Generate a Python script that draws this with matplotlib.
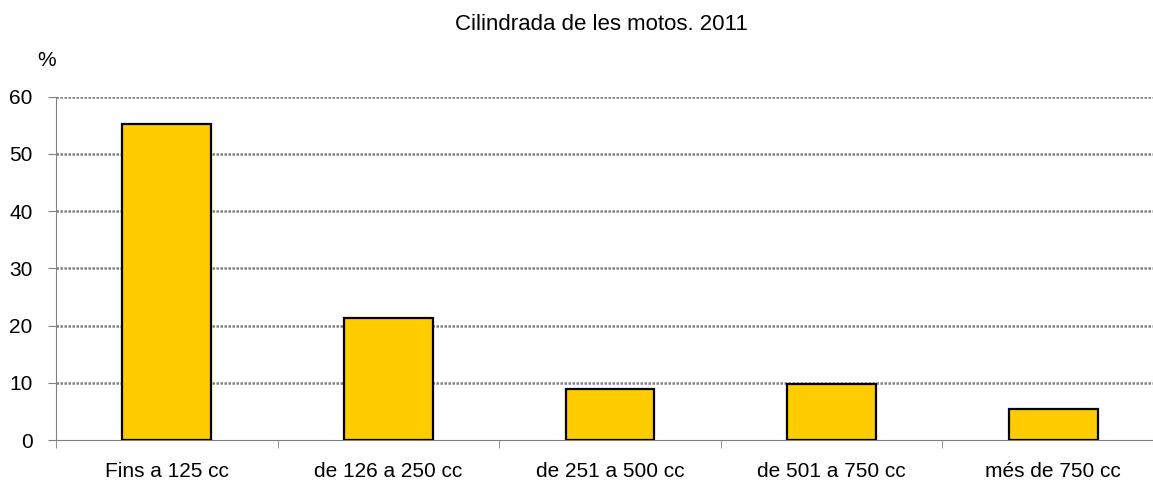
import numpy as np
import matplotlib
matplotlib.use('Agg')
import matplotlib.pyplot as plt

plt.rcParams['font.family'] = ['Liberation Sans', 'DejaVu Sans']

categories = ['Fins a 125 cc', 'de 126 a 250 cc', 'de 251 a 500 cc',
              'de 501 a 750 cc', 'més de 750 cc']
values = [55.2, 21.3, 8.9, 9.8, 5.4]

fig = plt.figure(figsize=(11.53, 4.86), dpi=100)
# the category axis runs a little past the right edge of the picture
ax = fig.add_axes([56 / 1153, 46 / 486, 1108 / 1153, 343.3 / 486])

x = np.arange(len(categories))
ax.bar(x, values, width=0.40, color='#FFCC00', edgecolor='black', linewidth=1.6, zorder=3)

ax.set_xlim(-0.5, len(categories) - 0.5)
ax.set_ylim(0, 60)
ax.set_yticks(range(0, 61, 10))
ax.set_xticks(x)
ax.set_xticklabels(categories, fontsize=15)
ax.set_xticks(np.arange(-0.5, len(categories), 1), minor=True)
ax.tick_params(axis='x', which='major', length=0, pad=16)
ax.tick_params(axis='x', which='minor', length=6, color='#808080', direction='out')
ax.tick_params(axis='y', labelsize=15, length=6, color='#808080', pad=11)

# gridlines
for v in range(10, 61, 10):
    ax.axhline(v, color='#808080', linewidth=1.8, linestyle=(0, (1, 0.6)), zorder=1)

for s in ['top', 'right']:
    ax.spines[s].set_visible(False)
ax.spines['left'].set_color('#808080')
ax.spines['bottom'].set_color('#808080')

fig.text(601.5 / 1153, 1 - 25 / 486, 'Cilindrada de les motos. 2011',
         ha='center', va='center', fontsize=16)
fig.text(47 / 1153, 1 - 61 / 486, '%', ha='center', va='center', fontsize=15)

fig.savefig('out.png', dpi=100)
